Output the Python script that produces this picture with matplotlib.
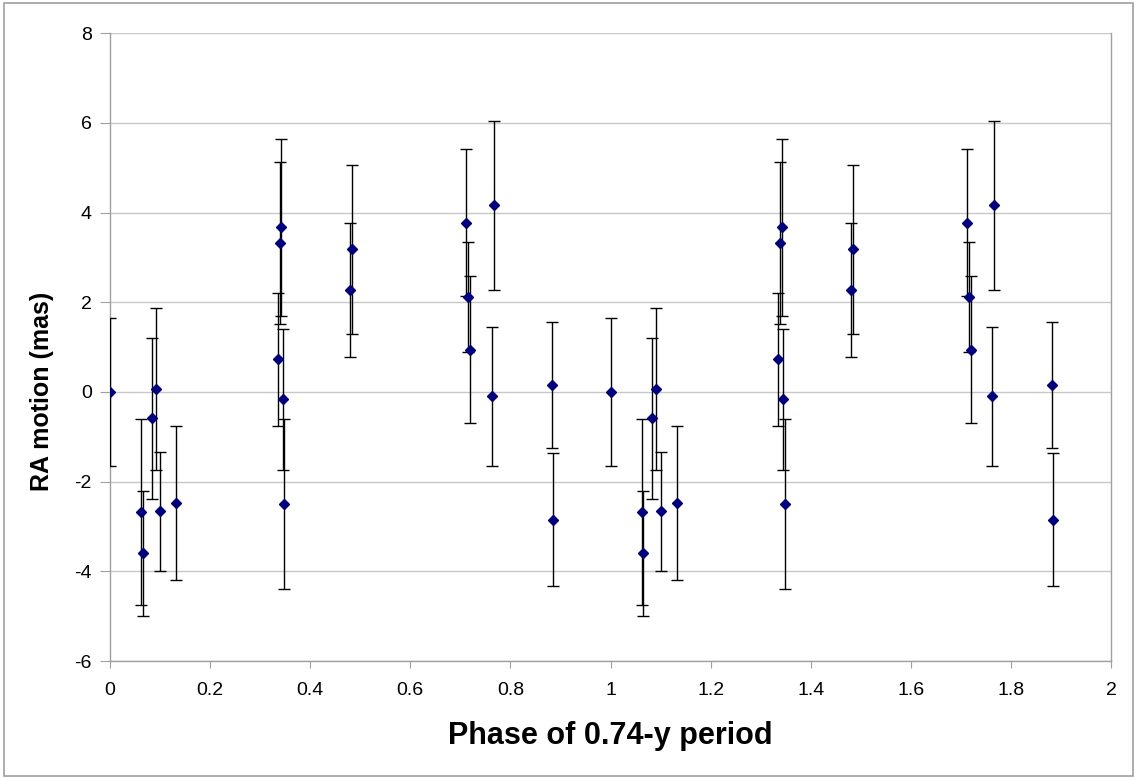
import numpy as np
import matplotlib
matplotlib.use("Agg")
import matplotlib.pyplot as plt
from matplotlib.patches import Rectangle

# phase within one 0.74-y cycle, RA motion (mas) and its error
phase = [0.000, 0.062, 0.065, 0.083, 0.091, 0.100, 0.132,
         0.335, 0.339, 0.342, 0.345, 0.348,
         0.480, 0.484,
         0.712, 0.716, 0.720, 0.763, 0.767,
         0.883, 0.885]
ra = [0.00, -2.68, -3.60, -0.59, 0.06, -2.66, -2.47,
      0.73, 3.33, 3.67, -0.16, -2.50,
      2.27, 3.18,
      3.78, 2.12, 0.94, -0.09, 4.16,
      0.15, -2.85]
err = [1.64, 2.07, 1.40, 1.80, 1.81, 1.33, 1.72,
       1.48, 1.81, 1.97, 1.57, 1.89,
       1.49, 1.89,
       1.64, 1.22, 1.64, 1.55, 1.89,
       1.41, 1.48]

# plotted over two cycles
x = np.concatenate([phase, np.array(phase) + 1])
y = np.concatenate([ra, ra])
e = np.concatenate([err, err])

plt.rcParams['font.family'] = ['Liberation Sans', 'DejaVu Sans']
plt.rcParams['axes.unicode_minus'] = False

fig = plt.figure(figsize=(11.38, 7.78), dpi=100)
ax = fig.add_axes([110 / 1138, 1 - 661 / 778, 1001 / 1138, (661 - 33.3) / 778])

ax.errorbar(x, y, yerr=e, fmt='none', ecolor='black', elinewidth=1.0,
            capsize=4, capthick=1.0, zorder=3)
ax.plot(x, y, 'D', color='#000080', markersize=4.6, zorder=4)

ax.set_xlim(0, 2)
ax.set_ylim(-6, 8)
ax.set_xticks(np.arange(0, 2.01, 0.2))
ax.set_xticklabels(['0', '0.2', '0.4', '0.6', '0.8', '1', '1.2', '1.4', '1.6', '1.8', '2'])
ax.set_yticks(np.arange(-6, 9, 2))
ax.yaxis.grid(True, color='#c8c8c8', linewidth=1.0)
ax.set_axisbelow(True)

for s in ax.spines.values():
    s.set_color('#a0a0a0')
    s.set_linewidth(1.0)
ax.spines['top'].set_visible(False)

ax.tick_params(axis='y', direction='out', length=7, color='#a0a0a0',
               labelsize=14, pad=6)
ax.tick_params(axis='x', direction='out', length=5, color='#a0a0a0',
               labelsize=14, pad=10)

ax.set_xlabel('Phase of 0.74-y period', fontsize=22, fontweight='bold', labelpad=16)
ax.set_ylabel('RA motion (mas)', fontsize=18, fontweight='bold')
ax.yaxis.set_label_coords(-0.056, 0.43)

fig.patches.append(Rectangle((4 / 1138, 2 / 778), 1129 / 1138, 773 / 778,
                             transform=fig.transFigure, fill=False,
                             edgecolor='#a0a0a0', linewidth=1.2))

fig.savefig('out.png', dpi=100)
